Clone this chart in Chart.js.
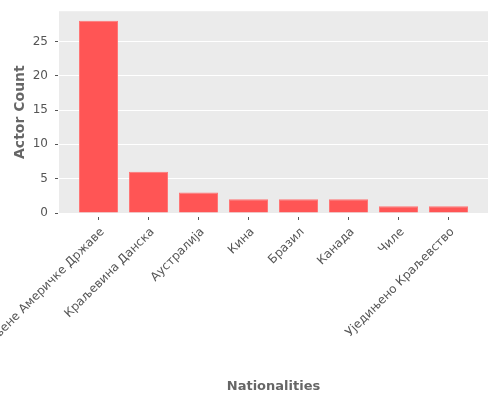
<!DOCTYPE html>
<html>
<head>
<meta charset="utf-8">
<script src="https://cdn.jsdelivr.net/npm/chart.js@4.4.0/dist/chart.umd.min.js"></script>
<style>
  html, body { margin: 0; padding: 0; background: #fff; }
  #wrap { width: 500px; height: 400px; }
</style>
</head>
<body>
<div id="wrap"><canvas id="chart"></canvas></div>
<script>
// Dữ liệu
const categories = ['Сједињене Америчке Државе', 'Краљевина Данска', 'Аустралија', 'Кина', 'Бразил', 'Канада', 'Чиле', 'Уједињено Краљевство'];
const actorCounts = [28, 6, 3, 2, 2, 2, 1, 1];
const yTicks = [0, 5, 10, 15, 20, 25];

const points = categories.map((c, i) => ({ x: i, y: actorCounts[i] }));

// nền xám kiểu ggplot cho vùng vẽ
const bgPlugin = {
    id: 'bg',
    beforeDraw(chart) {
        const a = chart.chartArea, ctx = chart.ctx;
        ctx.save();
        ctx.fillStyle = '#EBEBEB';
        ctx.fillRect(a.left, a.top, a.right - a.left, a.bottom - a.top);
        ctx.restore();
    }
};

Chart.defaults.font.family = '"DejaVu Sans", sans-serif';
Chart.defaults.color = '#555555';

new Chart(document.getElementById('chart'), {
    type: 'bar',
    data: {
        datasets: [{
            label: 'Actor Count',
            data: points,
            backgroundColor: '#FF5555',
            borderColor: '#FF7676',
            borderWidth: 1,
            barPercentage: 0.78,
            categoryPercentage: 1
        }]
    },
    options: {
        responsive: true,
        maintainAspectRatio: false,
        animation: false,
        layout: { padding: { top: 10, right: 12, left: 0, bottom: 0 } },
        plugins: { legend: { display: false }, tooltip: { enabled: false } },
        scales: {
            x: {
                type: 'linear',
                offset: false,
                min: -0.79,
                max: 7.79,
                border: { display: false },
                grid: {
                    offset: false,
                    drawOnChartArea: false,
                    tickLength: 7,
                    tickColor: '#555555',
                    tickBorderDash: [0, 4, 3, 20]
                },
                afterBuildTicks(s) { s.ticks = categories.map((c, i) => ({ value: i })); },
                ticks: {
                    autoSkip: false,
                    minRotation: 45,
                    maxRotation: 45,
                    padding: 5,
                    labelOffset: 4,
                    font: { size: 12 },
                    callback: (v) => categories[v]
                },
                title: {
                    display: true,
                    text: 'Nationalities',
                    color: '#666666',
                    font: { size: 13, weight: 'bold' },
                    padding: { top: 0, bottom: 6 }
                },
                afterFit(s) { s.height = 187; s.paddingLeft = 0; s.paddingRight = 0; }
            },
            y: {
                min: 0,
                max: 29.4,
                border: { display: false },
                grid: {
                    color: '#FFFFFF',
                    lineWidth: 1,
                    tickLength: 7,
                    tickColor: '#555555',
                    tickBorderDash: [0, 3, 3, 20]
                },
                afterBuildTicks(s) { s.ticks = yTicks.map(v => ({ value: v })); },
                ticks: { padding: 4, font: { size: 12 } },
                title: {
                    display: true,
                    text: 'Actor Count',
                    color: '#666666',
                    font: { size: 14, weight: 'bold' },
                    padding: { top: 12, bottom: 0 }
                },
                afterFit(s) { s.width = 59; }
            }
        }
    },
    plugins: [bgPlugin]
});
</script>
</body>
</html>
